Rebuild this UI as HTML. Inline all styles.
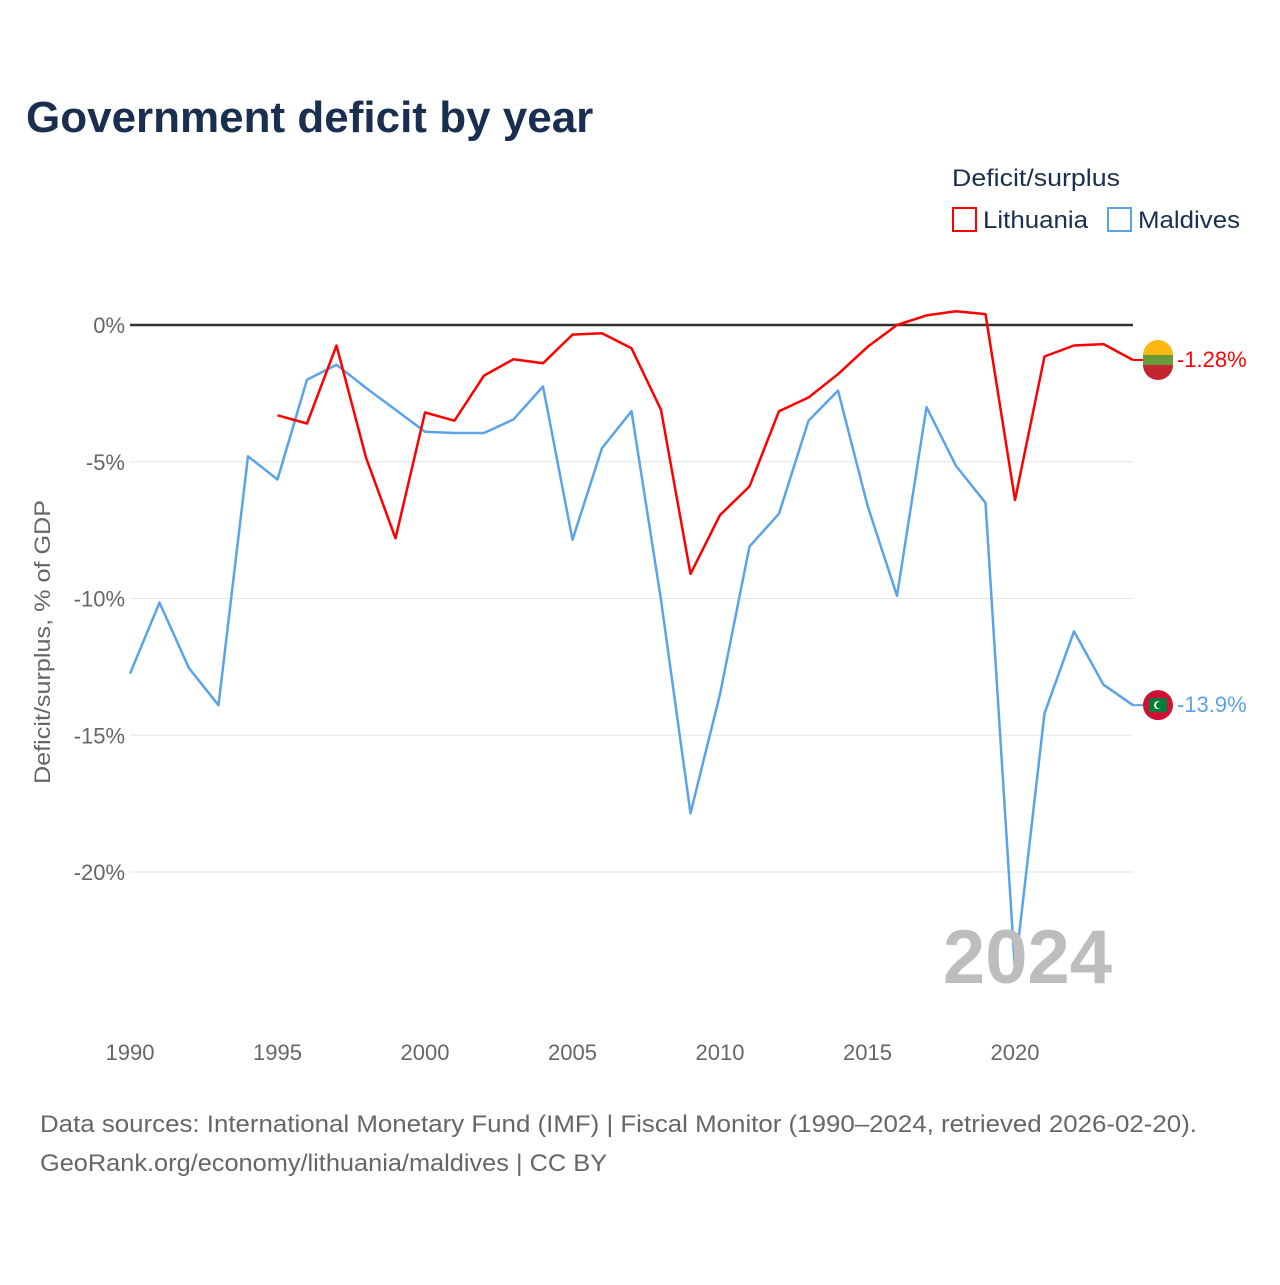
<!DOCTYPE html>
<html><head><meta charset="utf-8"><style>
body{margin:0;background:#fff;font-family:"Liberation Sans",sans-serif;}
svg text{font-family:"Liberation Sans",sans-serif;}
</style></head><body>
<svg id="chart" width="1280" height="1280" viewBox="0 0 1280 1280">
<rect width="1280" height="1280" fill="#fff"/>
<text x="26" y="132" font-size="44" font-weight="bold" fill="#1a2e4f">Government deficit by year</text>
<text x="952" y="186" font-size="24" fill="#1a2e4f" textLength="168" lengthAdjust="spacingAndGlyphs">Deficit/surplus</text>
<g><rect x="953" y="208" width="23" height="23" fill="none" stroke="#f00" stroke-width="2"/><text x="983" y="228" font-size="24" fill="#1a2e4f" textLength="105" lengthAdjust="spacingAndGlyphs">Lithuania</text></g>
<g><rect x="1108" y="208" width="23" height="23" fill="none" stroke="#5ba3e8" stroke-width="2"/><text x="1138" y="228" font-size="24" fill="#1a2e4f" textLength="102" lengthAdjust="spacingAndGlyphs">Maldives</text></g>
<text transform="translate(50,642) rotate(-90)" text-anchor="middle" font-size="22" fill="#666" textLength="284" lengthAdjust="spacingAndGlyphs">Deficit/surplus, % of GDP</text>
<g id="grid"></g><g id="xt"></g><g id="lines"></g>
<text x="1112" y="983" text-anchor="end" font-size="76" font-weight="bold" fill="#bdbdbd">2024</text>
<text x="40" y="1132" font-size="24" fill="#666" textLength="1157" lengthAdjust="spacingAndGlyphs">Data sources: International Monetary Fund (IMF) | Fiscal Monitor (1990–2024, retrieved 2026-02-20).</text>
<text x="40" y="1171" font-size="24" fill="#666" textLength="567" lengthAdjust="spacingAndGlyphs">GeoRank.org/economy/lithuania/maldives | CC BY</text>
</svg>
<script>
const years=[];for(let y=1990;y<=2024;y++)years.push(y);
const maldives=[-12.75,-10.15,-12.55,-13.9,-4.8,-5.65,-2.0,-1.45,-2.3,-3.1,-3.9,-3.95,-3.95,-3.45,-2.25,-7.85,-4.5,-3.15,-10.05,-17.85,-13.5,-8.1,-6.9,-3.5,-2.4,-6.6,-9.9,-3.0,-5.15,-6.5,-23.6,-14.2,-11.2,-13.15,-13.9];
const lithuania=[null,null,null,null,null,-3.3,-3.6,-0.75,-4.85,-7.8,-3.2,-3.5,-1.85,-1.25,-1.4,-0.35,-0.3,-0.85,-3.1,-9.1,-6.95,-5.9,-3.15,-2.65,-1.8,-0.8,0,0.35,0.5,0.4,-6.4,-1.15,-0.75,-0.7,-1.28];
const yTicks=[0,-5,-10,-15,-20];
const xTicks=[1990,1995,2000,2005,2010,2015,2020];
const NS="http://www.w3.org/2000/svg";
const X=y=>130+(y-1990)*(1133-130)/34;
const Y=v=>325-v*27.35;
function mk(t,a,p){const e=document.createElementNS(NS,t);for(const k in a)e.setAttribute(k,a[k]);p.appendChild(e);return e;}
const g=document.getElementById('grid');
yTicks.forEach(v=>{
 const l=mk('line',{x1:130,x2:1133,y1:Y(v),y2:Y(v),stroke:v===0?'#333':'#e6e6e6','stroke-width':v===0?2.5:1},g);
 
 
 const t=mk('text',{x:125,y:Y(v)+8,'text-anchor':'end','font-size':22,fill:'#666'},g);t.textContent=v+'%';
 
 
});
const xt=document.getElementById('xt');
xTicks.forEach(v=>{const t=mk('text',{x:X(v),y:1060,'text-anchor':'middle','font-size':22,fill:'#666'},xt);t.textContent=v;
 
 });
const L=document.getElementById('lines');
function line(vals,color,name){let d='';vals.forEach((v,i)=>{if(v===null)return;d+=(d?'L':'M')+X(years[i]).toFixed(1)+','+Y(v).toFixed(1);});
 const p=mk('path',{d:d,fill:'none',stroke:color,'stroke-width':2.5,'stroke-linejoin':'round'},L);
 
 }
line(maldives,'#5ba3e8','maldives-line');
line(lithuania,'#f00','lithuania-line');
function end(v,color,name,flag){const cy=Y(v),cx=1158;
 const gg=mk('g',{},L);
 
 
 mk('line',{x1:1133,x2:1145,y1:cy,y2:cy,stroke:color,'stroke-width':2},gg);
 if(flag==='lt'){mk('circle',{cx:cx,cy:cy,r:15,fill:'#006a44'},gg);mk('path',{d:`M${cx-15},${cy-5}A15,15 0 0 1 ${cx+15},${cy-5}Z`,fill:'#fdb913'},gg);mk('path',{d:`M${cx-15},${cy+5}A15,15 0 0 0 ${cx+15},${cy+5}Z`,fill:'#c1272d'},gg);mk('rect',{x:cx-15,y:cy-5,width:30,height:10,fill:'#6a9a3a'},gg);}
 else{mk('circle',{cx:cx,cy:cy,r:15,fill:'#d21034'},gg);mk('rect',{x:cx-9,y:cy-7,width:18,height:14,fill:'#007e3a'},gg);mk('circle',{cx:cx,cy:cy,r:4,fill:'#fff'},gg);mk('circle',{cx:cx+1.5,cy:cy,r:3.5,fill:'#007e3a'},gg);}
 const t=mk('text',{x:1177,y:cy+7,'font-size':22,fill:color},gg);t.textContent=(v===-1.28?'-1.28%':v+'%');}
end(lithuania[34],'#f00','lithuania-end-label','lt');
end(maldives[34],'#5ba3e8','maldives-end-label','mv');
</script>
</body></html>
